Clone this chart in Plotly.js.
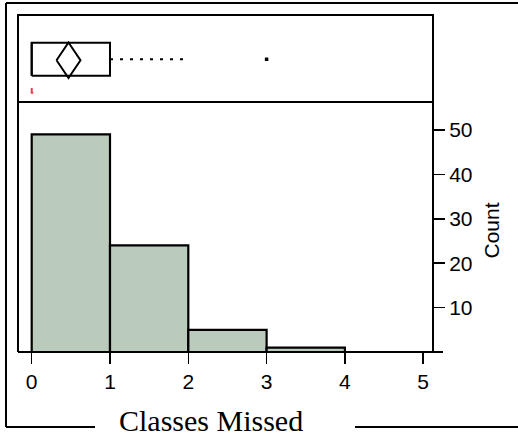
<!DOCTYPE html>
<html>
<head>
<meta charset="utf-8">
<script src="https://cdn.plot.ly/plotly-3.0.1.min.js"></script>
<style>
html,body{margin:0;padding:0;background:#fff;}
#chart{width:518px;height:439px;}
</style>
</head>
<body>
<div id="chart"></div>
<script>
// ---- data ----
var binStarts = [0, 1, 2, 3];
var binCounts = [49, 24, 5, 1];
var xTickVals = [0, 1, 2, 3, 4, 5];
var yTickVals = [10, 20, 30, 40, 50];
var boxQ1 = [0];
var boxMedian = [0];
var boxQ3 = [1];
var boxMean = [0.47];
var boxWhiskerLow = [0];
var boxWhiskerHigh = [2];
var boxOutliers = [3];
var xTitle = 'Classes Missed';
var yTitle = 'Count';

// ---- style constants ----
var barFill = '#BACABC';
var boxLo = 0.302, boxHi = 0.681, boxMid = 0.491;
var diaTop = 0.684, diaBot = 0.276, diaMid = 0.48, diaHalfW = 0.153;
var sansFont = 'Liberation Sans, Arial, Helvetica, sans-serif';
var serifFont = 'Liberation Serif, Times New Roman, serif';

var splitY = 250 / 337;

var traces = [];
traces.push({
  type: 'bar', x: binStarts, y: binCounts, offset: 0, width: 1,
  marker: {color: barFill, line: {color: '#000', width: 2.2}},
  xaxis: 'x', yaxis: 'y', hoverinfo: 'skip', showlegend: false
});
var q1 = boxQ1[0], q3 = boxQ3[0], med = boxMedian[0], mn = boxMean[0];
traces.push({
  type: 'scatter', mode: 'lines',
  x: [q1, q3, q3, q1, q1], y: [boxLo, boxLo, boxHi, boxHi, boxLo],
  line: {color: '#000', width: 2}, xaxis: 'x', yaxis: 'y2', showlegend: false, hoverinfo: 'skip'
});
traces.push({
  type: 'scatter', mode: 'lines',
  x: [med, med], y: [boxLo, boxHi],
  line: {color: '#000', width: 2}, xaxis: 'x', yaxis: 'y2', showlegend: false, hoverinfo: 'skip'
});
traces.push({
  type: 'scatter', mode: 'lines',
  x: [q3, boxWhiskerHigh[0]], y: [boxMid, boxMid],
  line: {color: '#000', width: 2, dash: '3px,7px'}, xaxis: 'x', yaxis: 'y2', showlegend: false, hoverinfo: 'skip'
});
traces.push({
  type: 'scatter', mode: 'lines',
  x: [boxWhiskerLow[0], q1], y: [boxMid, boxMid],
  line: {color: '#000', width: 2, dash: '3px,7px'}, xaxis: 'x', yaxis: 'y2', showlegend: false, hoverinfo: 'skip'
});
traces.push({
  type: 'scatter', mode: 'lines',
  x: [mn - diaHalfW, mn, mn + diaHalfW, mn, mn - diaHalfW],
  y: [diaMid, diaTop, diaMid, diaBot, diaMid],
  line: {color: '#000', width: 2}, xaxis: 'x', yaxis: 'y2', showlegend: false, hoverinfo: 'skip'
});
traces.push({
  type: 'scatter', mode: 'markers',
  x: boxOutliers, y: boxOutliers.map(function(){return boxMid;}),
  marker: {symbol: 'square', size: 3.5, color: '#000'},
  xaxis: 'x', yaxis: 'y2', showlegend: false, hoverinfo: 'skip'
});
traces.push({
  type: 'scatter', mode: 'lines',
  x: [boxWhiskerLow[0], boxWhiskerLow[0], boxWhiskerLow[0] + 0.02], y: [0.16, 0.105, 0.105],
  line: {color: '#E8404F', width: 2}, xaxis: 'x', yaxis: 'y2', showlegend: false, hoverinfo: 'skip', cliponaxis: false
});

var px = function(p){ return (p - 18) / 415; };
var py = function(p){ return (352 - p) / 337; };
var L = {color: '#000', width: 2};

var layout = {
  width: 518, height: 439,
  margin: {l: 18, r: 85, t: 15, b: 87, pad: 0},
  paper_bgcolor: '#fff', plot_bgcolor: '#fff',
  showlegend: false,
  xaxis: {
    range: [-0.175, 5.125], tickvals: xTickVals, ticktext: xTickVals.map(String),
    ticks: 'outside', ticklen: 11, tickwidth: 1.5, tickcolor: '#000',
    showline: false, showgrid: false, zeroline: false, anchor: 'y',
    tickfont: {family: sansFont, size: 21, color: '#000'}, fixedrange: true
  },
  yaxis: {
    domain: [0, splitY], range: [0, 250 / 4.44], side: 'right', anchor: 'x',
    tickvals: yTickVals, ticks: 'outside', ticklen: 11, tickwidth: 1.5, tickcolor: '#000',
    showline: false, showgrid: false, zeroline: false,
    tickfont: {family: sansFont, size: 21, color: '#000'}, fixedrange: true
  },
  yaxis2: {
    domain: [splitY, 1], range: [0, 1], anchor: 'x',
    visible: false, showgrid: false, zeroline: false, fixedrange: true
  },
  shapes: [
    {type: 'rect', xref: 'paper', yref: 'paper', x0: 0, x1: 1, y0: splitY, y1: 1, line: L},
    {type: 'line', xref: 'paper', yref: 'paper', x0: 0, x1: 0, y0: 0, y1: splitY, line: L},
    {type: 'line', xref: 'paper', yref: 'paper', x0: 1, x1: 1, y0: 0, y1: splitY, line: L},
    {type: 'line', xref: 'paper', yref: 'paper', x0: 0, x1: px(443), y0: 0, y1: 0, line: L},
    {type: 'line', xref: 'paper', yref: 'paper', x0: px(6), x1: px(6), y0: py(427), y1: py(3), line: L},
    {type: 'line', xref: 'paper', yref: 'paper', x0: px(6), x1: px(520), y0: py(3), y1: py(3), line: L},
    {type: 'line', xref: 'paper', yref: 'paper', x0: px(6), x1: px(95), y0: py(427), y1: py(427), line: L},
    {type: 'line', xref: 'paper', yref: 'paper', x0: px(355), x1: px(520), y0: py(427), y1: py(427), line: L}
  ],
  annotations: [
    {text: yTitle, xref: 'paper', yref: 'paper', x: px(491.5), y: py(231), textangle: -90,
     showarrow: false, xanchor: 'center', yanchor: 'middle',
     font: {family: sansFont, size: 21, color: '#000'}},
    {text: xTitle, xref: 'paper', yref: 'paper', x: px(211), y: py(420),
     showarrow: false, xanchor: 'center', yanchor: 'middle',
     font: {family: serifFont, size: 30, color: '#000'}}
  ]
};

Plotly.newPlot('chart', traces, layout, {displayModeBar: false, staticPlot: true});
</script>
</body>
</html>
